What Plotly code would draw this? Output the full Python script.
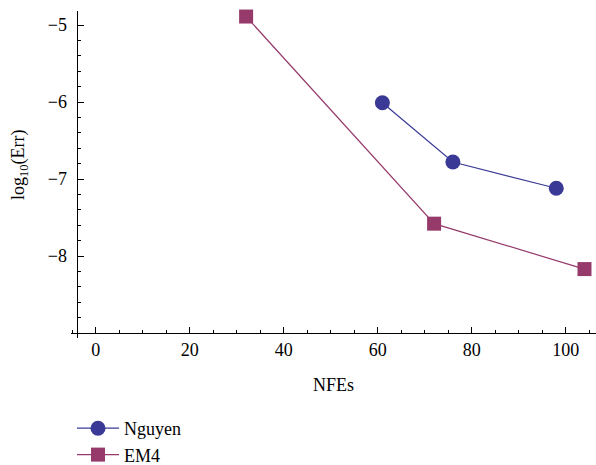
import plotly.graph_objects as go

# Data
nguyen_nfe = [61, 76, 98]
nguyen_err = [-6.01, -6.78, -7.12]
em4_nfe = [32, 72, 104]
em4_err = [-4.89, -7.58, -8.17]

x_ticks = [0, 20, 40, 60, 80, 100]
y_ticks = [-8, -7, -6, -5]

blue = "#3a3a96"
purple = "#953a6a"
FONT = "Liberation Serif"

W, H = 596, 465
L, R, T, B = 71, 0, 11, 127

fig = go.Figure()
fig.add_trace(go.Scatter(
    x=nguyen_nfe, y=nguyen_err, mode="lines+markers", name="Nguyen",
    line=dict(color=blue, width=1.2),
    marker=dict(symbol="circle", size=15, color=blue),
    cliponaxis=False,
))
fig.add_trace(go.Scatter(
    x=em4_nfe, y=em4_err, mode="lines+markers", name="EM4",
    line=dict(color=purple, width=1.2),
    marker=dict(symbol="square", size=14, color=purple),
    cliponaxis=False,
))

xr = [-5.26, 106.45]
yr = [-9.065, -4.818]
plot_w = W - L - R
plot_h = H - T - B
ypos = (-4.07 - xr[0]) / (xr[1] - xr[0])
xpos = (-9.0 - yr[0]) / (yr[1] - yr[0])

fig.update_layout(
    width=W, height=H,
    margin=dict(l=L, r=R, t=T, b=B, pad=0, autoexpand=False),
    plot_bgcolor="white", paper_bgcolor="white",
    font=dict(family=FONT, size=18, color="black"),
    showlegend=True,
    legend=dict(
        xref="container", yref="container",
        x=72 / W, y=1 - 410 / H, xanchor="left", yanchor="top",
        font=dict(family=FONT, size=18, color="black"),
        bgcolor="rgba(0,0,0,0)", itemwidth=42,
        tracegroupgap=0,
    ),
    xaxis=dict(
        range=xr, anchor="free", position=xpos,
        showgrid=False, zeroline=False,
        showline=True, linecolor="black", linewidth=1,
        tickmode="array", tickvals=x_ticks,
        ticks="inside", ticklen=6, tickwidth=1, tickcolor="black",
        minor=dict(dtick=5, tick0=0, ticks="inside", ticklen=3, tickwidth=1, tickcolor="black"),
        tickfont=dict(family=FONT, size=18),
        ticklabelstandoff=0,
    ),
    yaxis=dict(
        range=yr, anchor="free", position=ypos,
        showgrid=False, zeroline=False,
        showline=True, linecolor="black", linewidth=1,
        tickmode="array", tickvals=y_ticks,
        ticks="inside", ticklen=6, tickwidth=1, tickcolor="black",
        minor=dict(dtick=0.2, tick0=-9, ticks="inside", ticklen=3, tickwidth=1, tickcolor="black"),
        tickfont=dict(family=FONT, size=18),
        ticklabelstandoff=6,
    ),
    annotations=[
        dict(text="NFEs", xref="paper", yref="paper", x=0.5, y=-(385 - (H - B)) / plot_h,
             xanchor="center", yanchor="middle", showarrow=False,
             font=dict(family=FONT, size=18)),
        dict(text="log<sub>10</sub>(Err)", xref="paper", yref="paper",
             x=-(L - 19) / plot_w, y=1 - (165 - T) / plot_h, textangle=-90,
             xanchor="center", yanchor="middle", showarrow=False,
             font=dict(family=FONT, size=18)),
    ],
)

fig.write_html("out.html")
